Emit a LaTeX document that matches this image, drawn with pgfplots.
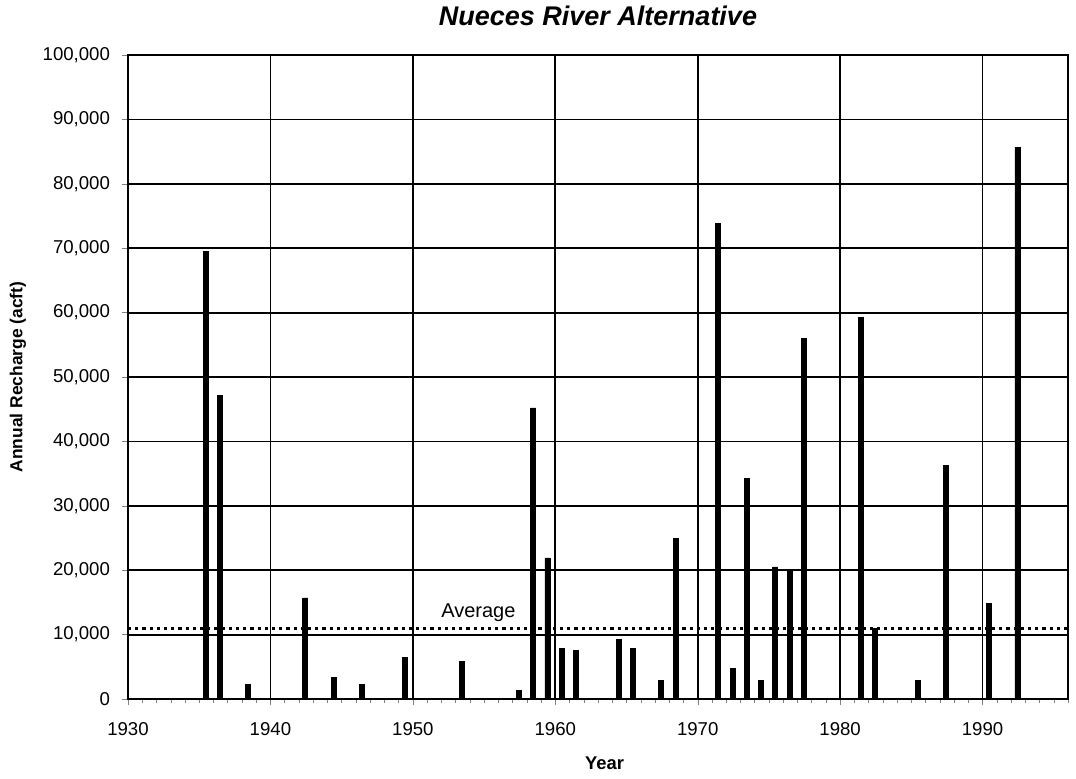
\documentclass[border=0pt]{standalone}
\usepackage{pgfplots}
\usepackage{pgfplotstable}
\pgfplotsset{compat=1.18}
\usepackage{fontspec}
\setmainfont{Liberation Sans}

\pgfplotstableread{
year value
1935 69500
1936 47200
1938 2300
1942 15700
1944 3400
1946 2300
1949 6400
1953 5800
1957 1300
1958 45200
1959 21900
1960 7900
1961 7500
1964 9200
1965 7900
1967 2900
1968 25000
1971 73800
1972 4800
1973 34300
1974 2900
1975 20500
1976 20000
1977 56000
1981 59200
1982 11000
1985 2900
1987 36200
1990 14900
1992 85600
}\recharge

\begin{document}
\begin{tikzpicture}
\begin{axis}[
  scale only axis,
  width=470pt, height=322pt,
  xmin=1930, xmax=1996,
  ymin=0, ymax=100000,
  scaled y ticks=false, scaled x ticks=false,
  xtick={1930,1940,1950,1960,1970,1980,1990},
  xticklabels={1930,1940,1950,1960,1970,1980,1990},
  minor xtick={1930,1931,...,1996},
  ytick={0,10000,20000,30000,40000,50000,60000,70000,80000,90000,100000},
  yticklabels={0,{10,000},{20,000},{30,000},{40,000},{50,000},{60,000},{70,000},{80,000},{90,000},{100,000}},
  tick label style={font=\fontsize{9.3}{11}\selectfont},
  x tick label style={yshift=-5pt},
  y tick label style={xshift=-2.5pt},
  tick align=outside,
  major tick length=3pt, minor tick length=2pt,
  xtick pos=bottom, ytick pos=left,
  xmajorgrids, ymajorgrids,
  grid style={black, line width=0.9pt},
  axis line style={black, line width=1pt},
  title={\bfseries\itshape Nueces River Alternative},
  title style={font=\fontsize{13.5}{15}\selectfont, inner sep=0pt, at={(axis description cs:0.5,1)}, anchor=center, yshift=13.5pt},
  xlabel={\bfseries Year},
  xlabel style={font=\fontsize{9.2}{11}\selectfont, inner sep=0pt, at={(axis description cs:0.507,0)}, anchor=center, yshift=-32pt},
  ylabel={\bfseries Annual Recharge (acft)},
  ylabel style={font=\fontsize{8.7}{10}\selectfont, inner sep=0pt, at={(axis description cs:-0.117,0.5)}, anchor=center},
  clip=false,
]
\addplot[ybar, bar width=0.35, bar shift=0pt, fill=black, draw=black]
  table[x expr=\thisrow{year}+0.45, y=value] {\recharge};
\addplot[black, line width=1.6pt, dotted] coordinates {(1930,11000) (1996,11000)};
\node[font=\fontsize{10}{12}\selectfont, anchor=south, inner sep=1pt] at (axis cs:1954.6,11600) {Average};
\end{axis}
\path (current axis.south west) ++(-64pt,-39.5pt) rectangle ([shift={(4pt,27.5pt)}]current axis.north east);
\end{tikzpicture}
\end{document}
